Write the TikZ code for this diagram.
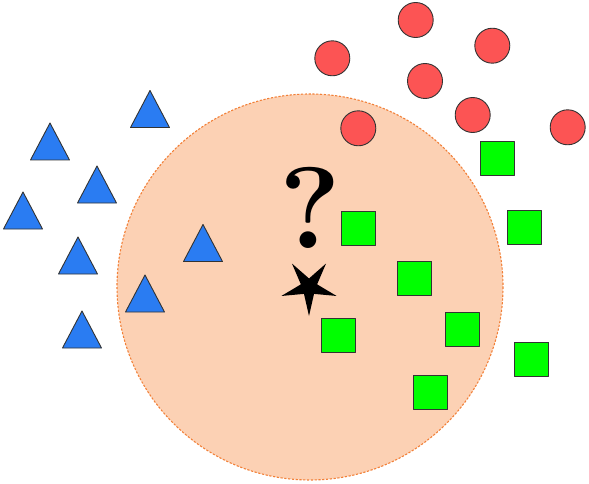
\documentclass[tikz,border=0pt]{standalone}
\usepackage{tikz}
\usetikzlibrary{shapes.geometric}
\definecolor{regionfill}{RGB}{252,209,180}
\definecolor{regionline}{RGB}{242,128,56}
\definecolor{triblue}{RGB}{42,124,242}
\definecolor{dotred}{RGB}{252,84,84}
\definecolor{boxgreen}{RGB}{0,255,0}

\begin{document}
\begin{tikzpicture}[
    x=1pt, y=-1pt,
    region/.style={fill=regionfill, draw=regionline, line width=1.1pt, dash pattern=on 2.2pt off 1.6pt},
    sample/.style={draw=black!80, line width=0.9pt, line join=round},
    classtri/.style={sample, fill=triblue},
    classdot/.style={sample, fill=dotred},
    classbox/.style={sample, fill=boxgreen},
    query/.style={star, star points=5, star point ratio=3.4, shape border rotate=180,
      minimum size=58pt, inner sep=0pt, fill=black},
    asklabel/.style={inner sep=0pt, font=\fontsize{116}{116}\selectfont\bfseries}
  ]
    \useasboundingbox (0,0) rectangle (589,484);

    % neighbourhood
    \draw[region] (310,287) circle[radius=193];

    % triangles
    \foreach \x/\y in {150/109, 50/141.5, 97/184.5, 23/210.5, 78/255.5,
                       145/293.5, 82/329.5, 203/243}
      \draw[classtri] (\x-19.5,\y+18.5) -- (\x+19.5,\y+18.5) -- (\x,\y-18.5) -- cycle;

    % circles
    \foreach \x/\y in {415.7/20, 332.3/58.3, 492.3/45.7, 425/81, 472.7/115,
                       358.3/128.3, 567.7/127.3}
      \draw[classdot] (\x,\y) circle[radius=17.5];

    % squares
    \foreach \x/\y in {358.8/228, 524/227, 414.7/278, 338.3/335, 462/329,
                       531.7/359, 430/392, 497/158}
      \draw[classbox] (\x-17,\y-17) rectangle ++(34,34);

    \node[asklabel] (ask) at (310,208) {?};
    \node[query] (star) at (309,287) {};
  \end{tikzpicture}
\end{document}
